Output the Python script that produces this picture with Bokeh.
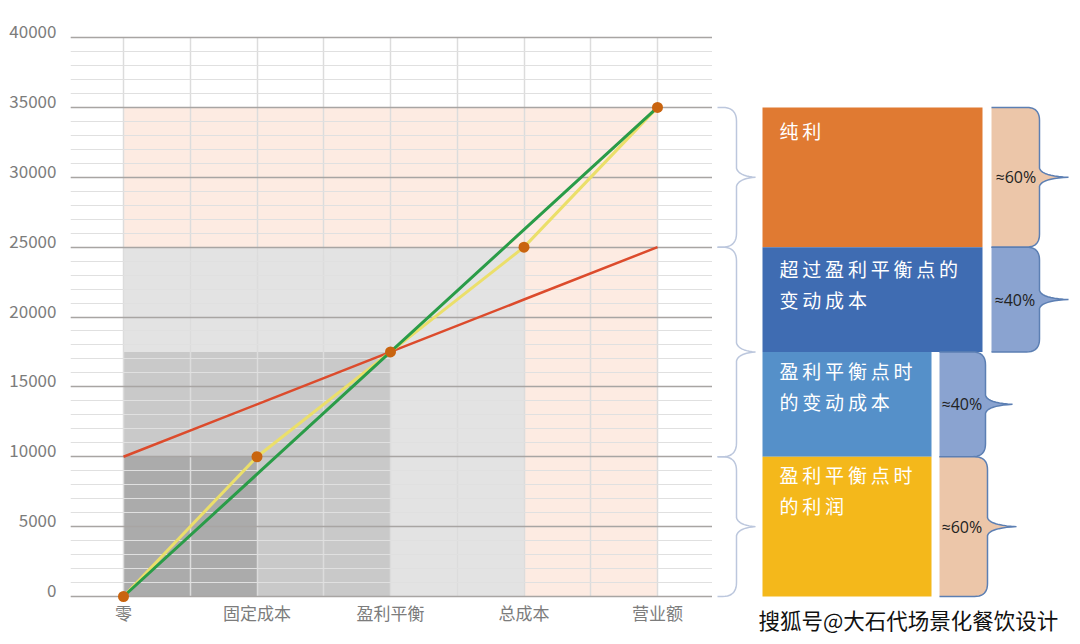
from bokeh.core.properties import value
from bokeh.embed import file_html
from bokeh.layouts import row
from bokeh.models import FixedTicker, LinearAxis, Range1d, SingleIntervalTicker, Title
from bokeh.plotting import figure
from bokeh.resources import INLINE

# chart data
categories = ["零", "固定成本", "盈利平衡", "总成本", "营业额"]
x_pos = [0, 1, 2, 3, 4]
revenue = [0, 8750, 17500, 26250, 35000]
total_cost = [10000, 13750, 17500, 21250, 25000]
kinked_x = [0, 1, 2, 3, 4]
kinked_y = [0, 10000, 17500, 25000, 35000]

# shaded zones behind the lines
zone_right = [4, 4, 3, 2, 1]
zone_bottom = [25000, 0, 0, 0, 0]
zone_top = [35000, 25000, 25000, 17500, 10000]
zone_left = [0, 3, 0, 0, 0]
zone_color = ["#fdebe2", "#fdebe2", "#e3e3e3", "#c9c9c9", "#ababab"]

# stacked blocks on the right
block_top = [35000, 25000, 17500, 10000]
block_bottom = [25000, 17500, 10000, 0]
block_color = ["#e07a32", "#3f6cb2", "#5590c9", "#f4b81b"]
block_lines = [["纯利"], ["超过盈利平衡点的", "变动成本"], ["盈利平衡点时", "的变动成本"], ["盈利平衡点时", "的利润"]]

# braces and callouts
brace_top = [35000, 25000, 10000]
brace_bottom = [25000, 10000, 0]
callout_top = [35000, 25000, 17500, 10000]
callout_bottom = [25000, 17500, 10000, 0]
callout_text = ["≈60%", "≈40%", "≈40%", "≈60%"]
callout_color = ["#ecc6a9", "#8aa3d0", "#8aa3d0", "#ecc6a9"]

FONT = "Noto Sans CJK SC"
K = 40000 / 559  # value units per pixel
THIN = "\u2009"


def quad(p0, c, p1, n=10):
    pts = []
    for i in range(1, n + 1):
        t = i / n
        pts.append(((1 - t) ** 2 * p0[0] + 2 * t * (1 - t) * c[0] + t ** 2 * p1[0],
                    (1 - t) ** 2 * p0[1] + 2 * t * (1 - t) * c[1] + t ** 2 * p1[1]))
    return pts


def curly(x_start, x_spine, x_tip, top, bottom, r, neck):
    """Outline of a curly brace opening to the left, as x and y lists"""
    mid = (top + bottom) / 2
    ry = r * K
    ny = neck * K
    pts = [(x_start, top), (x_spine - r, top)]
    pts += quad((x_spine - r, top), (x_spine, top), (x_spine, top - ry))
    pts.append((x_spine, mid + ny))
    pts += quad((x_spine, mid + ny), (x_spine + 2, mid + 1.2 * K), (x_tip, mid))
    pts += quad((x_tip, mid), (x_spine + 2, mid - 1.2 * K), (x_spine, mid - ny))
    pts.append((x_spine, bottom + ry))
    pts += quad((x_spine, bottom + ry), (x_spine, bottom), (x_spine - r, bottom))
    pts.append((x_start, bottom))
    return [a for a, b in pts], [b for a, b in pts]


# main chart
p = figure(width=712, height=636, output_backend="svg", toolbar_location=None, tools="",
           x_range=Range1d(-53 / 133.5, 4 + 55 / 133.5),
           y_range=Range1d(-7 * K, 40000 + 12 * K),
           min_border_left=70, min_border_right=0, min_border_top=25, min_border_bottom=33)
p.outline_line_color = None

p.quad(left=zone_left, right=zone_right, bottom=zone_bottom, top=zone_top,
       fill_color=zone_color, line_color=None, level="image")

y_ticker = SingleIntervalTicker(interval=5000, num_minor_ticks=5)
p.ygrid.ticker = y_ticker
p.ygrid.grid_line_color = "#a8a5a3"
p.ygrid.grid_line_width = 1.5
p.ygrid.minor_grid_line_color = "#e0e0e0"
p.ygrid.minor_grid_line_width = 1.2
p.xgrid.ticker = FixedTicker(ticks=[0, 0.5, 1, 1.5, 2, 2.5, 3, 3.5, 4])
p.xgrid.grid_line_color = "#dcdcdc"
p.xgrid.grid_line_width = 1.5
p.xgrid.cross_bounds = (0, 40000)

p.line(x_pos, total_cost, line_color="#dc4b2c", line_width=2.5)
p.line(kinked_x, kinked_y, line_color="#ebdf6a", line_width=3)
p.line(x_pos, revenue, line_color="#2a9c48", line_width=3)
p.scatter(kinked_x, kinked_y, size=11, fill_color="#c9640f", line_color=None)

xaxis = p.xaxis[0]
xaxis.ticker = FixedTicker(ticks=x_pos)
xaxis.major_label_overrides = dict(zip(x_pos, categories))
xaxis.axis_line_color = None
xaxis.major_tick_line_color = None
xaxis.minor_tick_line_color = None
xaxis.major_tick_in = 0
xaxis.major_tick_out = 0
xaxis.major_label_standoff = -4
xaxis.major_label_text_font = FONT
xaxis.major_label_text_font_size = "17px"
xaxis.major_label_text_color = "#7c7c7c"

# tick labels sit a little above their grid lines, so they get their own range
p.yaxis[0].visible = False
p.extra_y_ranges = {"labels": Range1d(-13 * K, 40000 + 6 * K)}
yaxis = LinearAxis(y_range_name="labels", ticker=y_ticker)
yaxis.axis_line_color = None
yaxis.major_tick_line_color = None
yaxis.minor_tick_line_color = None
yaxis.major_tick_in = 0
yaxis.major_tick_out = 0
yaxis.major_label_standoff = 10
yaxis.major_label_text_font = FONT
yaxis.major_label_text_font_size = "17px"
yaxis.major_label_text_color = "#7c7c7c"
yaxis.formatter.use_scientific = False
p.add_layout(yaxis, "left")

# right panel: x is in pixels from the left edge of the page
q = figure(width=360, height=636, output_backend="svg", toolbar_location=None, tools="",
           x_range=Range1d(712, 1072), y_range=p.y_range,
           x_axis_location=None, y_axis_location=None,
           min_border_left=0, min_border_right=0, min_border_top=25, min_border_bottom=33)
q.outline_line_color = None
q.grid.visible = False

block_right = [982, 982, 931, 931]
q.quad(left=[762] * 4, right=block_right, bottom=block_bottom, top=block_top,
       fill_color=block_color, line_color=None)

text_drop = [23, 21, 19, 18]
for lines, top, drop in zip(block_lines, block_top, text_drop):
    for i, line in enumerate(lines):
        q.text([779], [top - (drop + 31 * i) * K], text=[THIN.join(line)],
               text_font=value(FONT), text_font_size="19px", text_color="#ffffff",
               text_baseline="middle")

for top, bottom in zip(brace_top, brace_bottom):
    xs, ys = curly(717, 736, 755, top, bottom, 14, 9)
    q.line(xs, ys, line_color="#bcc7dd", line_width=1.5)

callout_left = [991, 991, 939, 939]
callout_spine = [1039, 1039, 985, 987]
callout_tip = [1068, 1068, 1012, 1016]
callout_text_x = [995, 994, 941, 941]
for i in range(4):
    xs, ys = curly(callout_left[i], callout_spine[i], callout_tip[i],
                   callout_top[i], callout_bottom[i], 13, 9)
    q.patch(xs, ys, fill_color=callout_color[i], line_color=None)
    q.line(xs, ys, line_color="#5c7fb3", line_width=1.5)
    q.text([callout_text_x[i]], [(callout_top[i] + callout_bottom[i]) / 2], text=[callout_text[i]],
           text_font=value("Open Sans"), text_font_size="16px", text_color="#222222",
           text_baseline="middle")

q.add_layout(Title(text="搜狐号@大石代场景化餐饮设计", align="left", offset=46, standoff=-4,
                   text_font=FONT, text_font_size="21.5px", text_font_style="normal",
                   text_color="#111111"), "below")

page = row(p, q, spacing=0)
open("out.html", "w").write(file_html(page, INLINE))
